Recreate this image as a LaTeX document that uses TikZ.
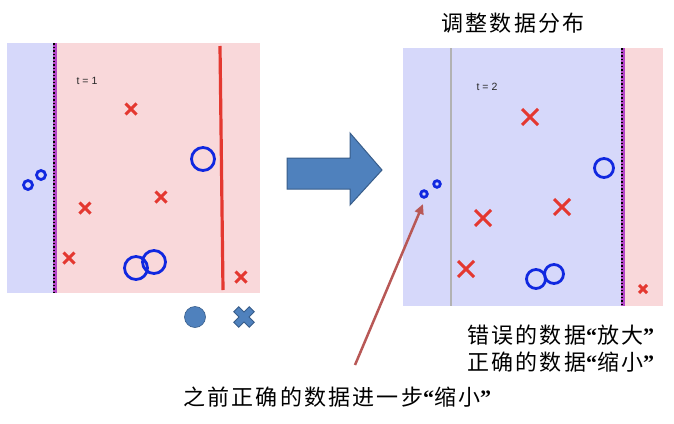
\documentclass[tikz,border=0pt]{standalone}
\usepackage{fontspec}
\newfontfamily\cjk[LetterSpace=10]{Noto Sans CJK SC}
\newfontfamily\qfont{Liberation Serif}
\setmainfont{Liberation Sans}
\newcommand{\cq}[1]{{\qfont\bfseries“}#1{\qfont\bfseries”}}
\usetikzlibrary{arrows.meta}
\definecolor{panelblue}{RGB}{214,216,250}
\definecolor{panelpink}{RGB}{249,216,218}
\definecolor{xred}{RGB}{228,56,48}
\definecolor{oblue}{RGB}{16,40,224}
\definecolor{divpurple}{RGB}{180,70,200}
\definecolor{steel}{RGB}{79,129,189}
\definecolor{steeldark}{RGB}{56,93,138}
\definecolor{brownred}{RGB}{184,88,86}
\tikzset{
  redx/.style={draw=xred,line width=3pt},
  bluecirc/.style={draw=oblue,line width=2.8pt},
  xm/.pic={\draw[redx] (-1,-1)--(1,1) (-1,1)--(1,-1);},
  divider/.style={draw=divpurple,line width=4pt},
  divdots/.style={draw=black,line width=1.2pt,dash pattern=on 1.5pt off 2pt},
  lbl/.style={font=\fontsize{10.5}{12}\selectfont,text=black!85,inner sep=0pt},
  cjktext/.style={font=\cjk\fontsize{22}{26}\selectfont,inner sep=0pt,text=black}
}
\begin{document}
\begin{tikzpicture}[x=1pt,y=-1pt]
\useasboundingbox (0,0) rectangle (674,423);
% ---------- left panel ----------
\fill[panelblue] (7,43) rectangle (55,293);
\fill[panelpink] (55,43) rectangle (260,293);
\draw[divider] (55,43) -- (55,293);
\draw[divdots] (54,43) -- (54,293);
\draw[draw=xred,line width=3.2pt] (220,46) -- (223,290);
\node[lbl] (t1) at (87,81) {t = 1};
\pic[scale=5.5] at (131,109) {xm};
\pic[scale=5.5] at (161,197) {xm};
\pic[scale=5.5] at (85,208) {xm};
\pic[scale=5.5] at (69,258) {xm};
\pic[scale=5.5] at (241,277) {xm};
\draw[bluecirc] (203,159) circle (11.5);
\draw[bluecirc] (28,185) circle (4.5);
\draw[bluecirc] (41,175) circle (4.5);
\draw[bluecirc] (136,268) circle (11.5);
\draw[bluecirc] (154,262) circle (11.5);
% legend
\fill[steel,draw=steeldark,line width=0.6pt] (195,317) circle (10.5);
\begin{scope}[shift={(244,317)},rotate=45]
\fill[steel,draw=steeldark,line width=0.8pt]
  (-3.5,-11) -- (3.5,-11) -- (3.5,-3.5) -- (11,-3.5) -- (11,3.5) -- (3.5,3.5)
  -- (3.5,11) -- (-3.5,11) -- (-3.5,3.5) -- (-11,3.5) -- (-11,-3.5) -- (-3.5,-3.5) -- cycle;
\end{scope}
% ---------- big arrow ----------
\fill[steel,draw=steeldark,line width=1pt]
  (287,158) -- (350,158) -- (350,133) -- (382,170) -- (350,205) -- (350,189) -- (287,189) -- cycle;
% ---------- right panel ----------
\node[cjktext] (title) at (513,23) {调整数据分布};
\fill[panelblue] (403,48) rectangle (623,306);
\fill[panelpink] (623,48) rectangle (663,306);
\draw[draw=black!30,line width=1.2pt] (451,48) -- (451,306);
\draw[divider] (623,48) -- (623,306);
\draw[divdots] (622,48) -- (622,306);
\node[lbl] (t2) at (487,87) {t = 2};
\pic[scale=8] at (530,117) {xm};
\pic[scale=8] at (562,207) {xm};
\pic[scale=8] at (483,218) {xm};
\pic[scale=8] at (466,269) {xm};
\pic[scale=4] at (643,289) {xm};
\draw[bluecirc] (604,168) circle (9.5);
\draw[bluecirc] (424,194) circle (3.3);
\draw[bluecirc] (437,184) circle (3.3);
\draw[bluecirc] (536,279) circle (9.5);
\draw[bluecirc] (554,274) circle (9.5);
% ---------- texts ----------
\node[cjktext,anchor=west] (l1) at (467,335) {错误的数据\cq{放大}};
\node[cjktext,anchor=west] (l2) at (467,362) {正确的数据\cq{缩小}};
\node[cjktext,anchor=west] (l3) at (183,397) {之前正确的数据进一步\cq{缩小}};
\coordinate (pa) at (355,365);
\coordinate (pb) at (423,204);
\draw[brownred,line width=2.5pt,-{Triangle[length=10pt,width=9pt]}] (pa) -- (pb);
\end{tikzpicture}
\end{document}
